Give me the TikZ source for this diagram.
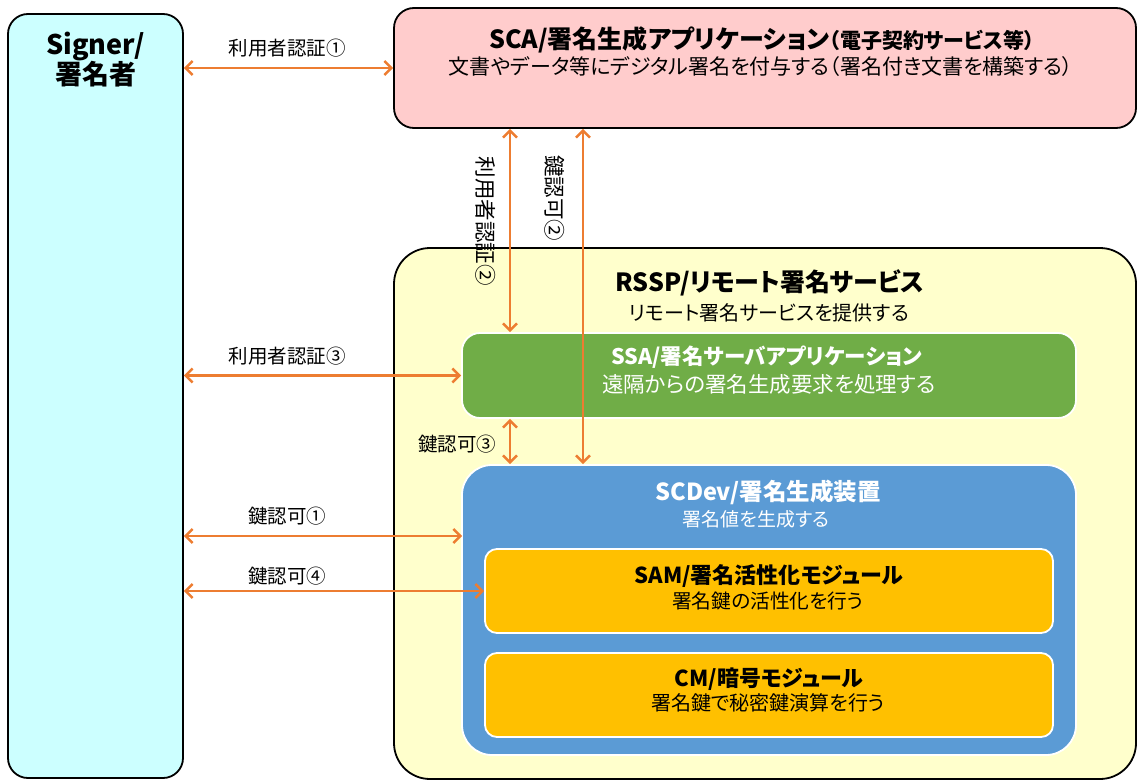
\documentclass[tikz,border=0pt]{standalone}
\usepackage{fontspec}
\setmainfont{Noto Sans CJK JP}[RawFeature={+palt}]
\usetikzlibrary{arrows.meta}

\definecolor{signerc}{HTML}{CCFFFF}
\definecolor{scac}{HTML}{FFCCCC}
\definecolor{rsspc}{HTML}{FFFFCC}
\definecolor{ssac}{HTML}{70AD47}
\definecolor{scdevc}{HTML}{5B9BD5}
\definecolor{modc}{HTML}{FFC000}
\definecolor{freccia}{HTML}{ED7D31}

\newcommand{\fs}[1]{\fontsize{#1}{#1}\selectfont}

\begin{document}
\begin{tikzpicture}[x=1pt,y=-1pt,
    box/.style={draw=black,line width=1.8pt,rectangle,inner sep=0pt},
    wbox/.style={draw=white,line width=1.8pt,rectangle,inner sep=0pt},
    titolo/.style={font=\bfseries\fs{22}},
    sotto/.style={font=\fs{19}},
    etichetta/.style={font=\fs{19.5},inner sep=0pt},
    link/.style={draw=freccia,line width=2.4pt,
        {Straight Barb[length=7pt,width=14pt]}-{Straight Barb[length=7pt,width=14pt]}}]
        \useasboundingbox (0,0) rectangle (1137,781);

        %%%%%%%%%% Nodi %%%%%%%%%%
        \node[box,fill=signerc,rounded corners=20pt,minimum width=175pt,minimum height=764pt] (signer) at (95.5,396) {};
        \node[box,fill=scac,rounded corners=20pt,minimum width=742pt,minimum height=120pt] (sca) at (765,68) {};
        \node[box,fill=rsspc,rounded corners=36pt,minimum width=742pt,minimum height=531pt] (rssp) at (765,513.5) {};
        \node[wbox,fill=ssac,rounded corners=18pt,minimum width=614pt,minimum height=85pt] (ssa) at (769,375.5) {};
        \node[wbox,fill=scdevc,rounded corners=30pt,minimum width=614pt,minimum height=290pt] (scdev) at (769,610) {};
        \node[wbox,fill=modc,rounded corners=12pt,minimum width=568pt,minimum height=84pt] (sam) at (769,591) {};
        \node[wbox,fill=modc,rounded corners=12pt,minimum width=568pt,minimum height=84pt] (cm) at (769,695) {};

        %%%%%%%%%% Testi %%%%%%%%%%
        \node[align=center,font=\bfseries\fontsize{27}{30}\selectfont] (signert) at (95.5,60) {Signer/\\署名者};
        \node[titolo,font=\bfseries\fs{25}] (scat) at (762,40) {SCA/署名生成アプリケーション{\fs{21}（電子契約サービス等）}};
        \node[sotto,font=\fs{21}] (scas) at (761,67) {文書やデータ等にデジタル署名を付与する（署名付き文書を構築する）};
        \node[titolo,font=\bfseries\fs{25}] (rsspt) at (770,283) {RSSP/リモート署名サービス};
        \node[sotto,font=\fs{20}] (rssps) at (769,313) {リモート署名サービスを提供する};
        \node[titolo,font=\bfseries\fs{21.5},text=white] (ssat) at (767,357) {SSA/署名サーバアプリケーション};
        \node[sotto,font=\fs{21.5},text=white] (ssas) at (769,384) {遠隔からの署名生成要求を処理する};
        \node[titolo,font=\bfseries\fs{23.5},text=white] (scdevt) at (768,492) {SCDev/署名生成装置};
        \node[sotto,text=white] (scdevs) at (756,519) {署名値を生成する};
        \node[titolo] (samt) at (769,576) {SAM/署名活性化モジュール};
        \node[sotto,font=\fs{19.7}] (sams) at (768,601) {署名鍵の活性化を行う};
        \node[titolo] (cmt) at (769,679) {CM/暗号モジュール};
        \node[sotto,font=\fs{20}] (cms) at (768,703) {署名鍵で秘密鍵演算を行う};

        %%%%%%%%% Frecce %%%%%%%%%
        \coordinate (v1) at (510,0);
        \coordinate (v2) at (583,0);
        \coordinate (k1) at (462,536);
        \draw[link] (signer.east |- sca.west) -- (sca.west);
        \draw[link] (signer.east |- ssa.west) -- (ssa.west);
        \draw[link] (signer.east |- k1) -- (k1);
        \draw[link] (signer.east |- sam.west) -- (sam.west);
        \draw[link] (sca.south -| v1) -- (ssa.north -| v1);
        \draw[link] (sca.south -| v2) -- (scdev.north -| v2);
        \draw[link] (ssa.south -| v1) -- (scdev.north -| v1);

        \node[etichetta] (l1) at (287,48) {利用者認証①};
        \node[etichetta] (l3) at (287,356) {利用者認証③};
        \node[etichetta] (k1l) at (287,516) {鍵認可①};
        \node[etichetta] (k4l) at (287,576) {鍵認可④};
        \node[etichetta] (k3l) at (457,444) {鍵認可③};
        \node[etichetta,font=\fs{21.5},rotate=-90] (l2) at (486,221) {利用者認証②};
        \node[etichetta,font=\fs{21.5},rotate=-90] (k2l) at (555,198) {鍵認可②};
    \end{tikzpicture}
\end{document}
